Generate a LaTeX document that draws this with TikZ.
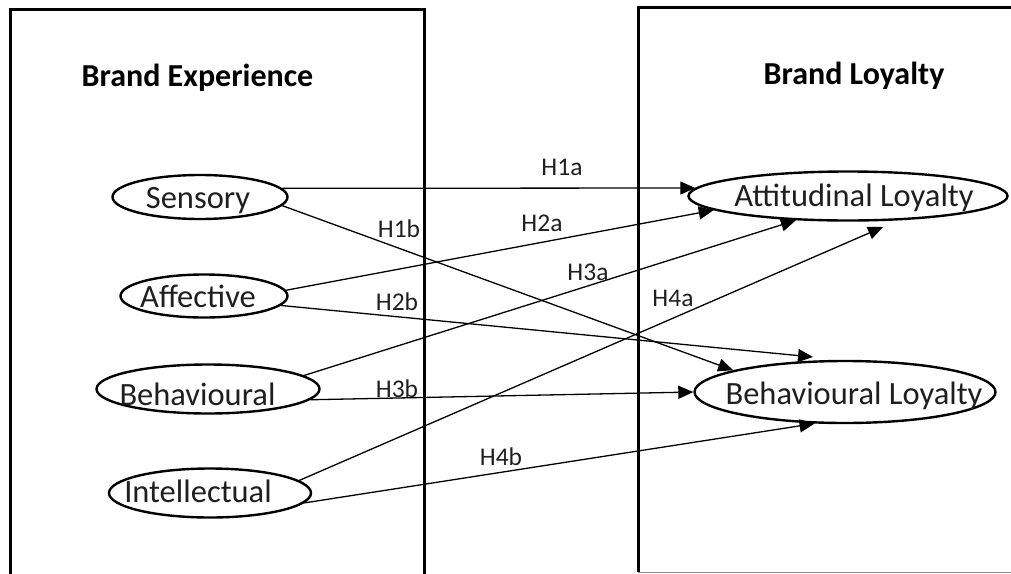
\documentclass[tikz,border=0pt]{standalone}
\usepackage{fontspec}
\setmainfont{Carlito}
\usetikzlibrary{arrows.meta,shapes.geometric}

\tikzset{
  frame/.style={line width=3pt, black},
  oval/.style={draw, ellipse, line width=2.4pt, inner sep=0pt},
  vartext/.style={anchor=base, inner sep=0pt, text=black!88,
    font=\fontsize{32.5}{38}\selectfont},
  title/.style={anchor=base, inner sep=0pt,
    font=\fontsize{32}{38}\selectfont\bfseries},
  hyp/.style={anchor=base, inner sep=0pt, text=black!88,
    font=\fontsize{25.5}{30}\selectfont},
  hpath/.style={line width=1.3pt, -{Triangle[length=15pt, width=13pt]}},
}

\begin{document}
\begin{tikzpicture}[x=1pt, y=-1pt]
  \useasboundingbox (0,0) rectangle (1011,573);

  % the two construct panels
  \draw[frame] (10,580) -- (10,9) -- (424,9) -- (424,580);
  \draw[frame] (638,572) -- (638,7) -- (1020,7);
  \draw[line width=1pt, black!45] (638,572) -- (1011,572);

  \node[title] (tExp) at (197.5,86) {Brand Experience};
  \node[title] (tLoy) at (854,84) {Brand Loyalty};

  % dimensions of brand experience
  \node[oval, minimum width=175pt, minimum height=44pt] (sen) at (200,197) {};
  \node[oval, minimum width=167pt, minimum height=43pt] (aff) at (204,296) {};
  \node[oval, minimum width=223pt, minimum height=49pt] (beh) at (208,389) {};
  \node[oval, minimum width=202pt, minimum height=49pt] (int) at (210,493) {};

  \node[vartext] (senT) at (198,208) {Sensory};
  \node[vartext] (affT) at (198,307) {Affective};
  \node[vartext] (behT) at (197.5,405) {Behavioural};
  \node[vartext] (intT) at (198,502) {Intellectual};

  % dimensions of brand loyalty
  \node[oval, minimum width=319pt, minimum height=49pt] (att) at (848,196) {};
  \node[oval, minimum width=301pt, minimum height=62pt] (bl) at (845,392) {};

  \node[vartext] (attT) at (854,206) {Attitudinal Loyalty};
  \node[vartext] (blT) at (854,404) {Behavioural Loyalty};

  % hypothesised paths
  \draw[hpath] (sen.6.6) -- (att.177.8);
  \draw[hpath] (sen.-6.6) -- (bl.169.1);
  \draw[hpath] (aff.4.1) -- (att.-174.2);
  \draw[hpath] (aff.-7.6) -- ([shift={(-32,-35)}]bl.center);
  \draw[hpath] (beh.8.9) -- (att.-155.9);
  \draw[hpath] (beh.-6.1) -- (bl.180);
  \draw[hpath] (int.8.8) -- ([shift={(35,31)}]att.center);
  \draw[hpath] (int.-6.7) -- (bl.-134.1);

  % hypothesis labels
  \node[hyp] (h1a) at (562,175) {H1a};
  \node[hyp] (h1b) at (399,237) {H1b};
  \node[hyp] (h2a) at (542,231.7) {H2a};
  \node[hyp] (h2b) at (397,310) {H2b};
  \node[hyp] (h3a) at (588,280) {H3a};
  \node[hyp] (h3b) at (397,397) {H3b};
  \node[hyp] (h4a) at (673,306.7) {H4a};
  \node[hyp] (h4b) at (501,465) {H4b};
\end{tikzpicture}
\end{document}
